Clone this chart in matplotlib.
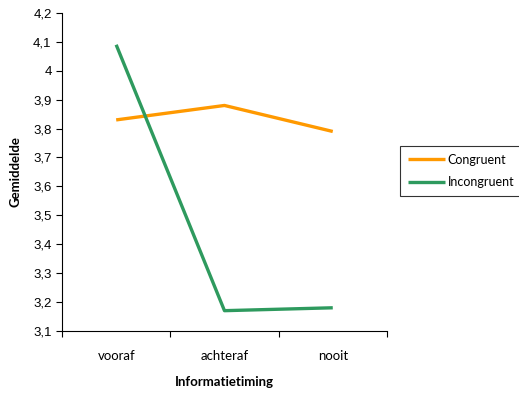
import numpy as np
import matplotlib.pyplot as plt
from matplotlib.ticker import FixedLocator, FuncFormatter

categories = ["vooraf", "achteraf", "nooit"]
congruent = [3.83, 3.88, 3.79]
incongruent = [4.09, 3.17, 3.18]
y_ticks = [3.1, 3.2, 3.3, 3.4, 3.5, 3.6, 3.7, 3.8, 3.9, 4.0, 4.1, 4.2]

fig = plt.figure(figsize=(5.19, 3.93), dpi=100)
ax = fig.add_axes([0.1195, 0.158, 0.626, 0.809])

x = np.arange(len(categories))
ax.plot(x, congruent, color="#FF9900", lw=2.4, label="Congruent", solid_capstyle="butt")
ax.plot(x, incongruent, color="#2E9A5E", lw=2.4, label="Incongruent", solid_capstyle="butt")

ax.set_xlim(-0.5, len(categories) - 0.5)
ax.set_ylim(3.1, 4.2)

ax.xaxis.set_major_locator(FixedLocator(np.arange(-0.5, len(categories), 1.0)))
ax.xaxis.set_minor_locator(FixedLocator(x))
ax.set_xticklabels([], minor=False)
ax.set_xticklabels(categories, minor=True, fontfamily="Lato", fontsize=9.5)
ax.tick_params(axis="x", which="major", length=4, direction="out", width=0.8)
ax.tick_params(axis="x", which="minor", length=0, pad=14)

ax.set_yticks(y_ticks)
ax.yaxis.set_major_formatter(FuncFormatter(lambda v, p: f"{v:.1f}".rstrip("0").rstrip(".").replace(".", ",")))
ax.tick_params(axis="y", length=4, direction="out", width=0.8, labelsize=9.5)
for lbl in ax.get_yticklabels():
    lbl.set_fontfamily("Liberation Sans")

ax.spines["top"].set_visible(False)
ax.spines["right"].set_visible(False)

ax.set_xlabel("Informatietiming", fontfamily="Lato", fontweight="bold", fontsize=9.5, labelpad=10)
ax.set_ylabel("Gemiddelde", fontfamily="Lato", fontweight="bold", fontsize=9.5, labelpad=8)

leg = fig.legend(loc="upper left", bbox_to_anchor=(400 / 519, 1 - 146 / 393),
                 frameon=True, fancybox=False, edgecolor="black",
                 prop={"family": "Lato", "size": 9}, handlelength=3.0,
                 handletextpad=0.2, borderpad=0.6, labelspacing=0.85, borderaxespad=0)
leg.get_frame().set_linewidth(0.8)

fig.savefig("out.png", dpi=100)
